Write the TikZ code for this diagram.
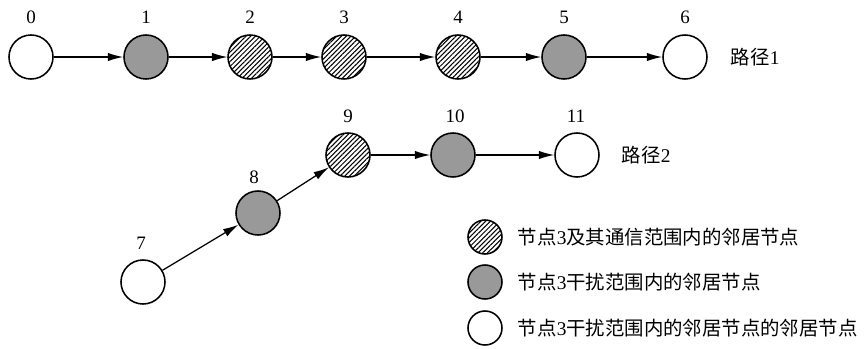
\documentclass[tikz,border=0pt]{standalone}
\usepackage{fontspec}
\setmainfont{Liberation Serif}
\newfontfamily\cjk{Noto Sans CJK SC}
\usetikzlibrary{positioning,patterns.meta,arrows.meta}

\definecolor{midgray}{RGB}{153,153,153}

\tikzset{
  nd/.style={circle, draw=black, line width=1.1pt, minimum size=1.1cm, inner sep=0pt},
  hatched/.style={nd, pattern={Lines[angle=45, distance=2.4pt, line width=0.75pt]}},
  grayed/.style={nd, fill=midgray},
  plain/.style={nd, fill=white},
  small/.style={minimum size=0.85cm},
  lbl/.style={font=\fontsize{13.5}{16}\selectfont},
  txt/.style={font=\fontsize{13.8}{16}\selectfont\cjk, anchor=west},
  link/.style={line width=0.9pt, -{Latex[length=11pt,width=6pt]}}
}
\newcommand{\nb}[1]{{\rmfamily #1}}

\begin{document}
\begin{tikzpicture}[x=0.025cm, y=-0.025cm]
\useasboundingbox (0,0) rectangle (864,349);

% path 1
\node[plain]   (n0) at (31,57)  {};
\node[grayed]  (n1) at (146,57) {};
\node[hatched] (n2) at (250,57) {};
\node[hatched] (n3) at (344,57) {};
\node[hatched] (n4) at (458,57) {};
\node[grayed]  (n5) at (564,57) {};
\node[plain]   (n6) at (685,57) {};

\node[lbl] at (31,17)  {0};
\node[lbl] at (146,17) {1};
\node[lbl] at (250,17) {2};
\node[lbl] at (344,17) {3};
\node[lbl] at (458,17) {4};
\node[lbl] at (564,17) {5};
\node[lbl] at (685,17) {6};
\node[txt] (p1) at (726,57) {路径\nb{1}};

\draw[link] (n0) -- (n1);
\draw[link] (n1) -- (n2);
\draw[link] (n2) -- (n3);
\draw[link] (n3) -- (n4);
\draw[link] (n4) -- (n5);
\draw[link] (n5) -- (n6);

% path 2
\node[plain]   (n7)  at (143,282) {};
\node[grayed]  (n8)  at (258,213) {};
\node[hatched] (n9)  at (348,155) {};
\node[grayed]  (n10) at (453,155) {};
\node[plain]   (n11) at (577,155) {};

\node[lbl] at (141,243) {7};
\node[lbl] at (254,177) {8};
\node[lbl] at (348,116) {9};
\node[lbl] at (455,116) {10};
\node[lbl] at (576,116) {11};
\node[txt] (p2) at (617,155) {路径\nb{2}};

\draw[link] (n7) -- (n8);
\draw[link] (n8) -- (n9);
\draw[link] (n9) -- (n10);
\draw[link] (n10) -- (n11);

% legend
\node[hatched, small] (k1) at (485,237) {};
\node[grayed, small]  (k2) at (485,282) {};
\node[plain, small]   (k3) at (485,328) {};
\node[txt] at (513,237) {节点\nb{3}及其通信范围内的邻居节点};
\node[txt] at (513,282) {节点\nb{3}干扰范围内的邻居节点};
\node[txt] at (513,328) {节点\nb{3}干扰范围内的邻居节点的邻居节点};

\end{tikzpicture}
\end{document}
